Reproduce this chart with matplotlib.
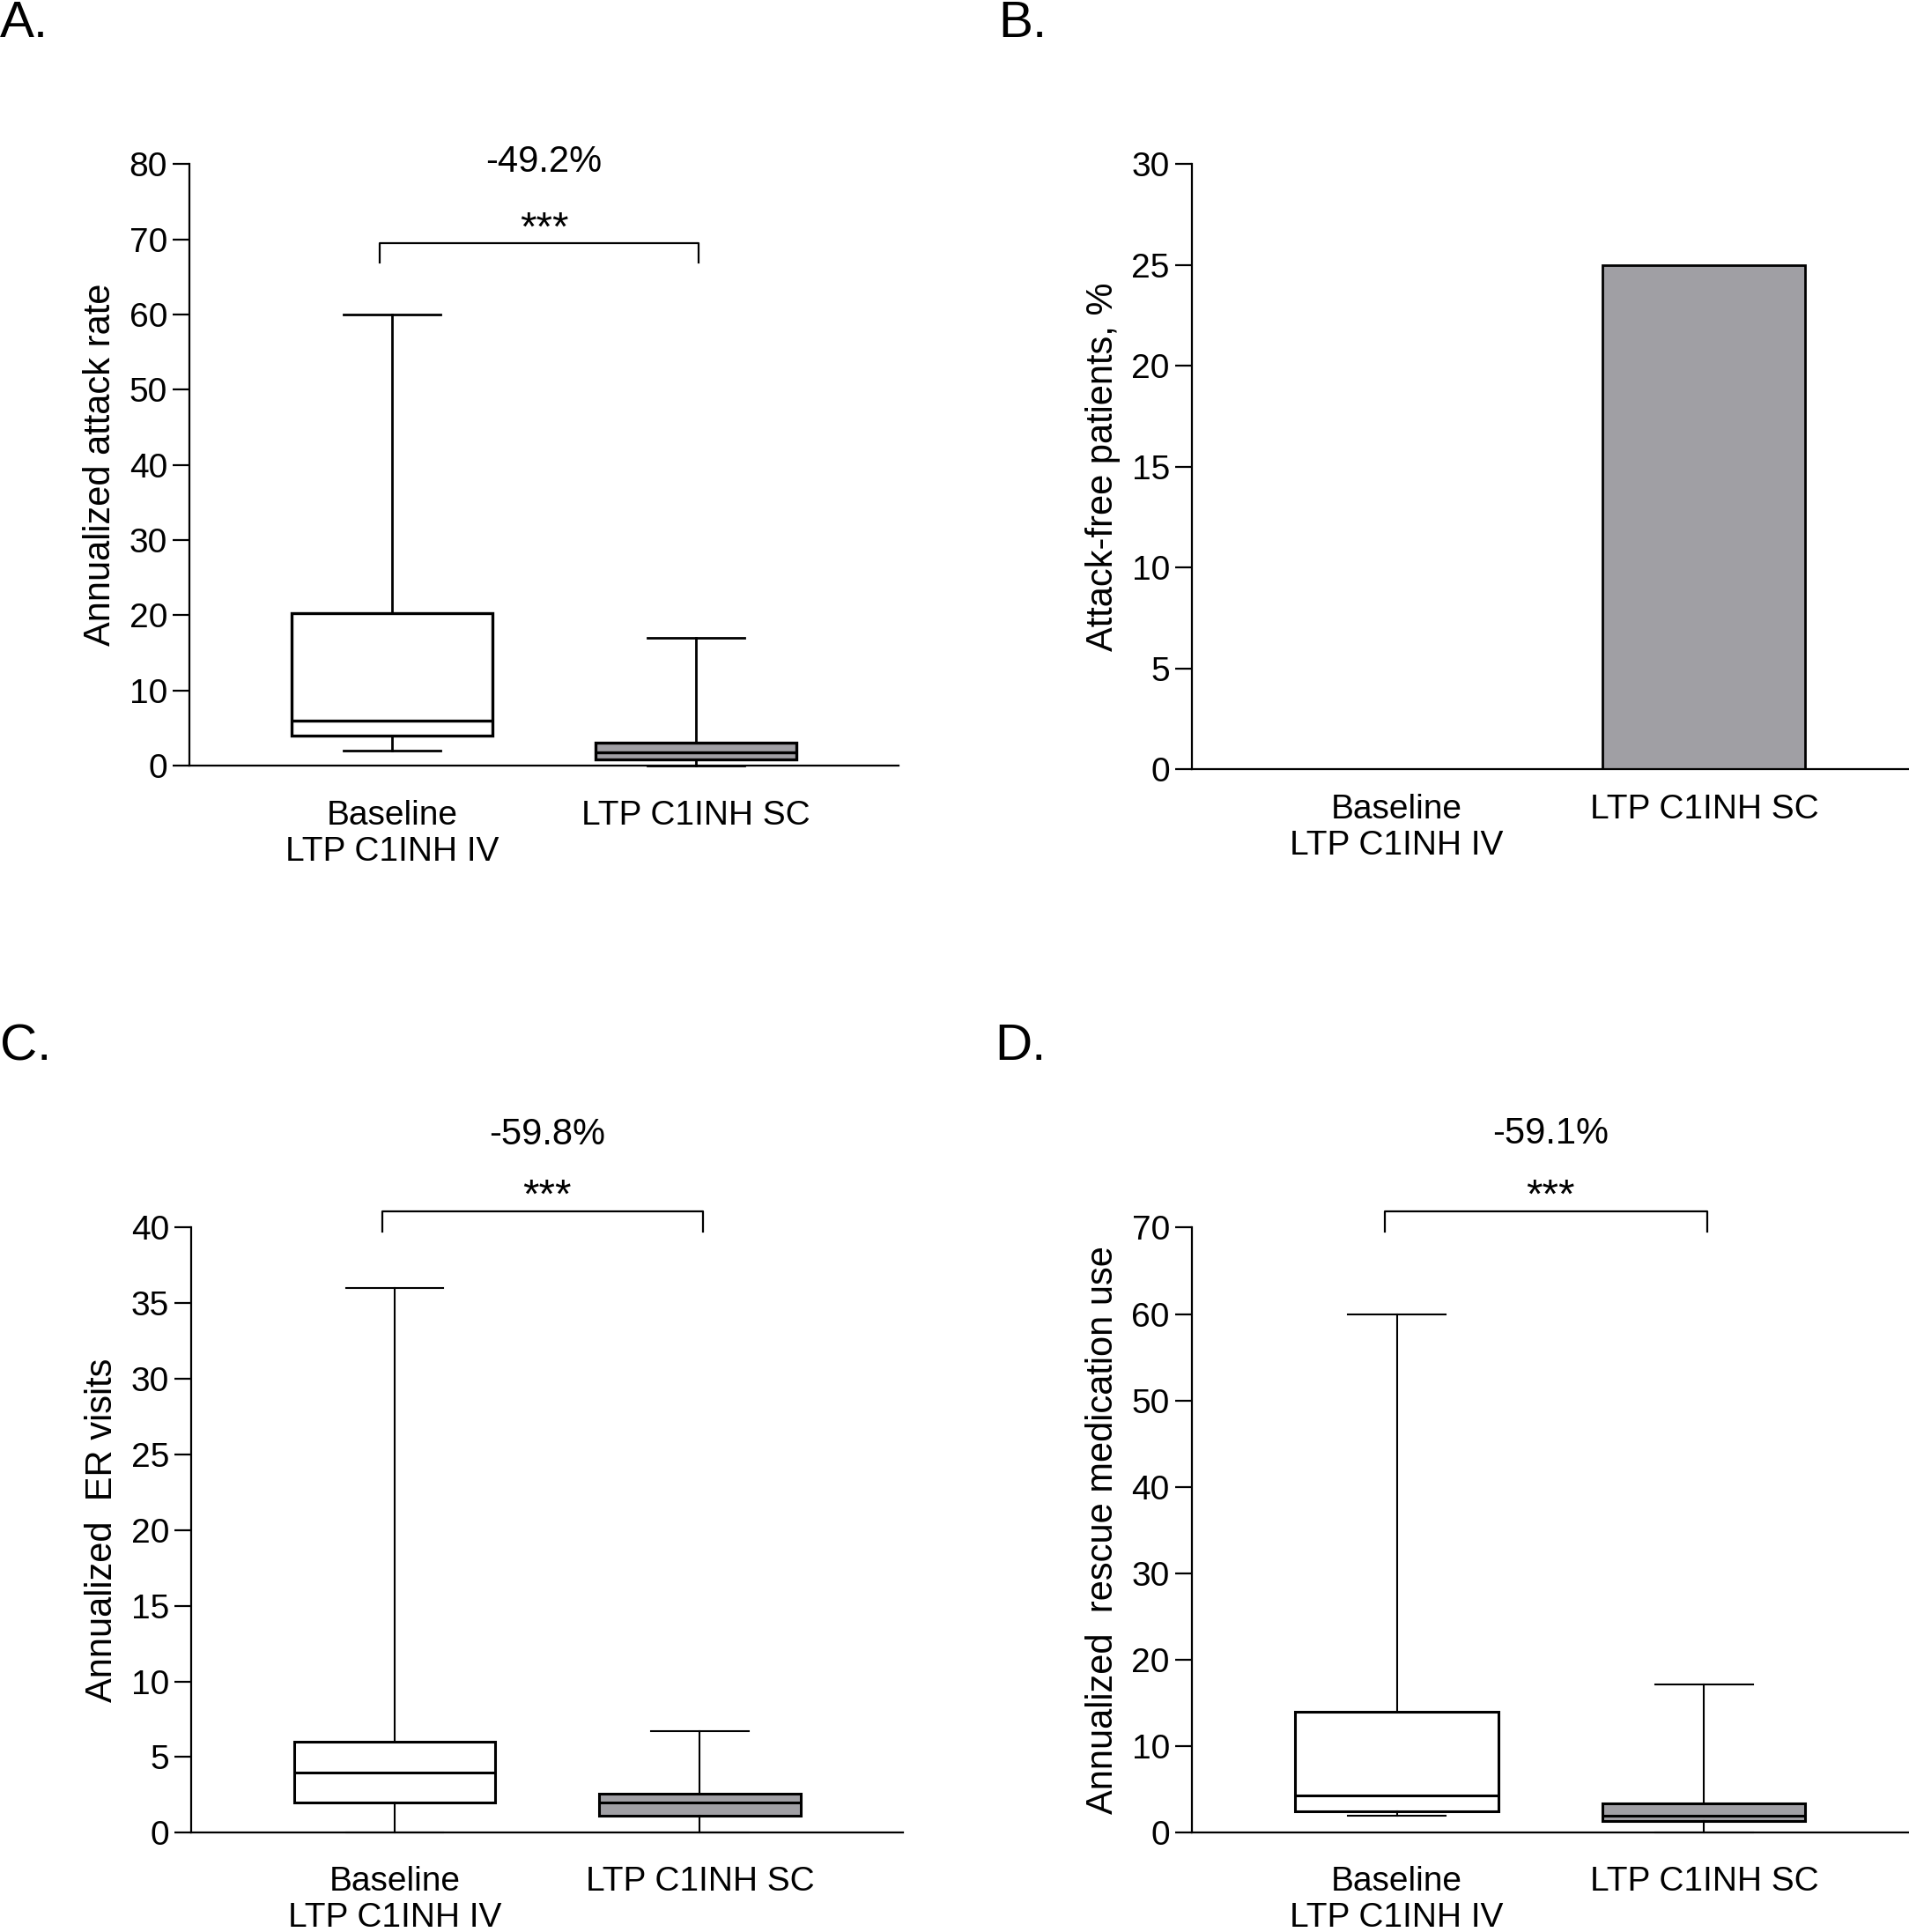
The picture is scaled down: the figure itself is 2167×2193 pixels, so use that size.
import matplotlib
matplotlib.use("Agg")
import matplotlib.pyplot as plt

plt.rcParams['font.family'] = ['Liberation Sans', 'DejaVu Sans']

groups = ['Baseline\nLTP C1INH IV', 'LTP C1INH SC']
grey = '#a09fa4'

# box plot summaries: whislo, q1, med, q3, whishi
attack_base = [2, 4, 6, 20.3, 60]
attack_sc = [0, 0.8, 1.8, 3.0, 17]
er_base = [0, 2, 4, 6, 36]
er_sc = [0, 1.1, 2, 2.6, 6.7]
rescue_base = [2, 2.5, 4.3, 14, 60]
rescue_sc = [0, 1.4, 2, 3.4, 17.2]

# attack-free patients, %
attack_free = [0, 25]

pct_labels = ['-49.2%', '-59.8%', '-59.1%']

fig = plt.figure(figsize=(21.67, 21.93), dpi=100)

XLIM = (-0.667, 1.667)


def style_axes(ax, ymax, ystep, ylabel, xpad):
    ax.set_xlim(*XLIM)
    ax.set_ylim(0, ymax)
    ax.set_yticks(range(0, ymax + 1, ystep))
    ax.set_xticks([0, 1])
    ax.set_xticklabels(groups)
    for s in ['top', 'right']:
        ax.spines[s].set_visible(False)
    for s in ['left', 'bottom']:
        ax.spines[s].set_linewidth(1.6)
    ax.tick_params(axis='y', length=14, width=1.6, pad=4, labelsize=28)
    ax.tick_params(axis='x', length=0, pad=xpad, labelsize=28)
    plt.setp(ax.get_xticklabels(), linespacing=1.2)
    ax.set_ylabel(ylabel, fontsize=30, labelpad=9)


def draw_boxes(ax, base, sc, lw_box, lw_wh):
    stats = []
    for v in (base, sc):
        stats.append(dict(whislo=v[0], q1=v[1], med=v[2], q3=v[3], whishi=v[4], fliers=[]))
    bp = ax.bxp(stats, positions=[0, 1], widths=0.66, capwidths=0.32,
                patch_artist=True, showfliers=False,
                boxprops=dict(linewidth=lw_box, edgecolor='black'),
                medianprops=dict(color='black', linewidth=lw_box),
                whiskerprops=dict(color='black', linewidth=lw_wh),
                capprops=dict(color='black', linewidth=lw_wh))
    bp['boxes'][0].set_facecolor('white')
    bp['boxes'][1].set_facecolor(grey)
    for art in bp['whiskers'] + bp['caps']:
        art.set_clip_on(False)


def draw_bracket(ax, y, leg, star_y, pct_y, pct):
    ax.plot([-0.04, -0.04, 1.01, 1.01], [leg, y, y, leg], color='black',
            linewidth=1.6, clip_on=False)
    ax.text(0.5, star_y, '***', ha='center', va='baseline', fontsize=34)
    ax.text(0.5, pct_y, pct, ha='center', va='center', fontsize=30)


# A
axA = fig.add_axes([0.0992, 0.6038, 0.3715, 0.3113])
draw_boxes(axA, attack_base, attack_sc, 2.4, 2.0)
style_axes(axA, 80, 10, 'Annualized attack rate', 28)
draw_bracket(axA, 69.5, 66.9, 69.9, 80.2, pct_labels[0])

# B
axB = fig.add_axes([0.6243, 0.6019, 0.3757, 0.3132])
axB.bar([0, 1], attack_free, width=0.66, color=['white', grey],
        edgecolor='black', linewidth=2.0)
style_axes(axB, 30, 5, 'Attack-free patients, %', 20)

# C
axC = fig.add_axes([0.1001, 0.0514, 0.3731, 0.3132])
draw_boxes(axC, er_base, er_sc, 2.2, 1.5)
style_axes(axC, 40, 5, 'Annualized  ER visits', 27)
draw_bracket(axC, 41.06, 39.76, 41.3, 46.15, pct_labels[1])

# D
axD = fig.add_axes([0.6243, 0.0514, 0.3757, 0.3132])
draw_boxes(axD, rescue_base, rescue_sc, 2.2, 1.5)
style_axes(axD, 70, 10, 'Annualized  rescue medication use', 27)
draw_bracket(axD, 71.86, 69.57, 72.3, 80.8, pct_labels[2])

# panel letters
fig.text(0.0, 1 - 42 / 2193, 'A.', fontsize=42, va='baseline')
fig.text(0.523, 1 - 42 / 2193, 'B.', fontsize=42, va='baseline')
fig.text(0.0, 1 - 1203 / 2193, 'C.', fontsize=42, va='baseline')
fig.text(0.521, 1 - 1203 / 2193, 'D.', fontsize=42, va='baseline')

fig.savefig('out.png', dpi=100, facecolor='white')
